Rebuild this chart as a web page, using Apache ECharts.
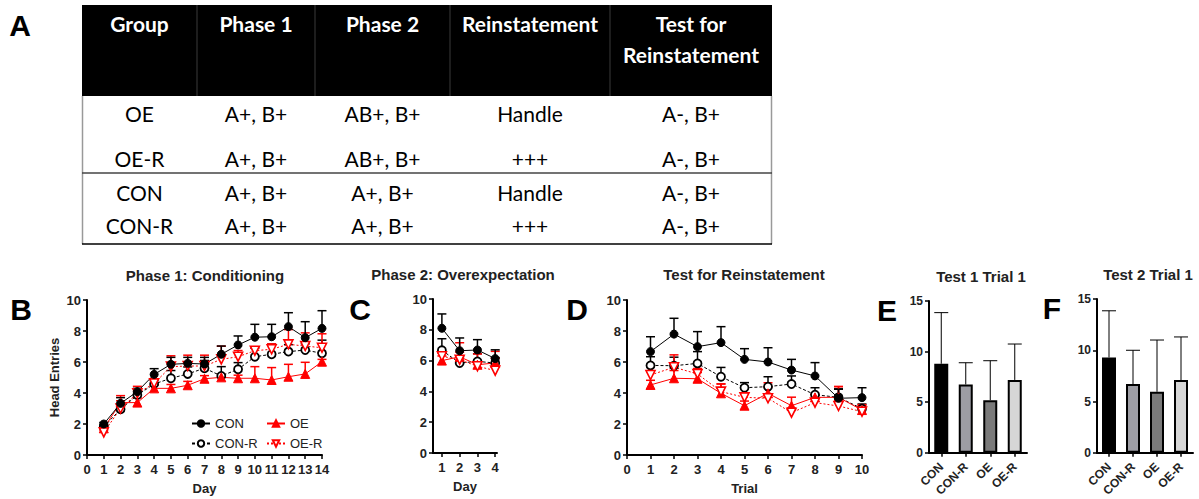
<!DOCTYPE html>
<html>
<head>
<meta charset="utf-8">
<script src="https://cdn.jsdelivr.net/npm/echarts@6/dist/echarts.min.js"></script>
<style>
html,body{margin:0;padding:0;background:#fff;}
#chart{width:1199px;height:499px;}
</style>
</head>
<body>
<div id="chart"></div>
<script>
// ---------------- DATA ----------------
const tableHeaders = ['Group', 'Phase 1', 'Phase 2', 'Reinstatement', 'Test for\nReinstatement'];
const tableRows = [
  ['OE', 'A+, B+', 'AB+, B+', 'Handle', 'A-, B+'],
  ['OE-R', 'A+, B+', 'AB+, B+', '+++', 'A-, B+'],
  ['CON', 'A+, B+', 'A+, B+', 'Handle', 'A-, B+'],
  ['CON-R', 'A+, B+', 'A+, B+', '+++', 'A-, B+']
];
const panelTitles = ['Phase 1: Conditioning', 'Phase 2: Overexpectation', 'Test for Reinstatement', 'Test 1 Trial 1', 'Test 2 Trial 1'];
const panelLetters = ['A', 'B', 'C', 'D', 'E', 'F'];
const groupNames = ['CON', 'CON-R', 'OE', 'OE-R'];

// Panel B: Phase 1 conditioning (days 1-14)
const daysB = [1, 2, 3, 4, 5, 6, 7, 8, 9, 10, 11, 12, 13, 14];
const bCON     = [2.0, 3.33, 4.09, 5.2, 5.85, 5.91, 5.87, 6.5, 7.1, 7.6, 7.63, 8.28, 7.57, 8.17];
const bCON_sem = [0.1, 0.37, 0.21, 0.37, 0.45, 0.39, 0.43, 0.53, 0.58, 0.83, 0.8, 0.9, 1.03, 1.14];
const bCONR     = [1.83, 2.95, 3.87, 4.58, 4.95, 5.23, 5.6, 5.1, 5.53, 6.34, 6.5, 6.67, 6.77, 6.56];
const bCONR_sem = [0.1, 0.2, 0.2, 0.25, 0.5, 0.45, 0.5, 0.6, 0.43, 0.55, 0.65, 0.45, 0.4, 0.85];
const bOE     = [1.72, 3.38, 3.38, 4.3, 4.3, 4.5, 4.92, 5.01, 4.95, 4.95, 4.84, 5.05, 5.23, 6.02];
const bOE_sem = [0.1, 0.45, 0.3, 0.2, 0.25, 0.25, 0.2, 0.2, 0.2, 0.75, 0.8, 0.8, 0.75, 0.15];
const bOER     = [1.46, 3.0, 3.98, 4.62, 5.7, 5.74, 5.74, 6.17, 6.34, 6.73, 6.82, 7.14, 7.03, 6.92];
const bOER_sem = [0.15, 0.5, 0.45, 0.3, 0.7, 0.7, 0.7, 0.85, 0.4, 0.25, 0.35, 0.95, 0.85, 0.9];

// Panel C: Phase 2 overexpectation (days 1-4)
const daysC = [1, 2, 3, 4];
const cCON     = [8.1, 6.64, 6.69, 6.13];
const cCON_sem = [0.93, 0.83, 0.67, 0.57];
const cCONR     = [6.67, 5.84, 5.95, 5.84];
const cCONR_sem = [0.75, 0.4, 0.5, 0.35];
const cOE     = [6.0, 6.25, 5.73, 5.85];
const cOE_sem = [0.3, 0.3, 0.25, 0.3];
const cOER     = [6.28, 6.06, 5.63, 5.35];
const cOER_sem = [0.2, 1.1, 0.8, 1.25];

// Panel D: Test for reinstatement (trials 1-10)
const trialsD = [1, 2, 3, 4, 5, 6, 7, 8, 9, 10];
const dCON     = [6.67, 7.8, 6.99, 7.25, 6.17, 6.0, 5.48, 5.1, 3.66, 3.7];
const dCON_sem = [0.96, 1.02, 0.97, 1.03, 0.69, 0.92, 0.69, 0.86, 0.58, 0.64];
const dCONR     = [5.78, 5.76, 5.91, 5.05, 4.34, 4.41, 4.58, 3.89, 3.72, 2.99];
const dCONR_sem = [0.56, 0.55, 0.76, 0.6, 0.33, 0.64, 0.52, 0.45, 0.55, 0.3];
const dOE     = [4.52, 4.95, 4.92, 3.98, 3.18, 3.98, 3.18, 3.72, 3.72, 2.9];
const dOE_sem = [0.3, 0.5, 0.4, 0.6, 0.3, 0.4, 0.55, 0.2, 0.7, 0.3];
const dOER     = [5.16, 5.66, 5.23, 4.09, 3.72, 3.66, 2.73, 3.38, 3.16, 2.8];
const dOER_sem = [0.22, 0.8, 0.35, 0.5, 0.22, 1.0, 0.3, 0.25, 1.25, 0.45];

// Panels E / F: bar charts
const eMeans = [8.8, 6.75, 5.2, 7.2];
const eSem   = [5.05, 2.15, 3.9, 3.55];
const fMeans = [9.3, 6.7, 5.95, 7.1];
const fSem   = [4.55, 3.3, 5.05, 4.2];

// ---------------- STYLES ----------------
const FONT = "'Liberation Sans', Arial, Helvetica, sans-serif";
const TFONT = "Lato, 'Noto Sans', sans-serif";
const RED = '#ff0000';
const invTri = 'path://M0,0 L10,0 L5,9 Z';
const groupStyle = {
  'CON':   {symbol: 'circle', size: 8, item: {color: '#000', borderColor: '#000', borderWidth: 1}, line: {color: '#000', width: 1, type: 'solid'}, err: '#000'},
  'CON-R': {symbol: 'circle', size: 8, item: {color: '#fff', borderColor: '#000', borderWidth: 1.8}, line: {color: '#000', width: 1, type: [3, 2]}, err: '#000'},
  'OE':    {symbol: 'triangle', size: 9, item: {color: RED, borderColor: RED, borderWidth: 1}, line: {color: RED, width: 1, type: 'solid'}, err: RED},
  'OE-R':  {symbol: invTri, size: 9, item: {color: '#fff', borderColor: RED, borderWidth: 1.6}, line: {color: RED, width: 1, type: [2, 2]}, err: RED}
};
const barColors = ['#000000', '#9d9da4', '#7a7a7a', '#d6d6d6'];

// ---------------- HELPERS ----------------
function errRender(color, capHalf, lw) {
  return function (params, api) {
    const x = api.value(0), y = api.value(1), e = api.value(2);
    const p0 = api.coord([x, y]);
    const p1 = api.coord([x, y + e]);
    return {
      type: 'group',
      children: [
        {type: 'line', shape: {x1: p0[0], y1: p0[1], x2: p1[0], y2: p1[1]}, style: {stroke: color, lineWidth: lw}},
        {type: 'line', shape: {x1: p1[0] - capHalf, y1: p1[1], x2: p1[0] + capHalf, y2: p1[1]}, style: {stroke: color, lineWidth: lw}}
      ]
    };
  };
}
function groupSeries(name, xs, ys, es, gi) {
  const s = groupStyle[name];
  return [
    {
      type: 'custom', name: name + ' err', xAxisIndex: gi, yAxisIndex: gi, z: 2,
      renderItem: errRender(s.err, 4.5, 1.5),
      encode: {x: 0, y: 1},
      data: xs.map((x, i) => [x, ys[i], es[i]]),
      silent: true
    },
    {
      type: 'line', name: name, xAxisIndex: gi, yAxisIndex: gi, z: 3,
      symbol: s.symbol, symbolSize: s.size, showSymbol: true,
      itemStyle: s.item, lineStyle: s.line,
      emphasis: {disabled: true},
      data: xs.map((x, i) => [x, ys[i]])
    }
  ];
}
function barSeries(means, sems, gi) {
  return [
    {
      type: 'bar', xAxisIndex: gi, yAxisIndex: gi, barWidth: 14, z: 2,
      data: means.map((v, i) => ({value: v, itemStyle: {color: barColors[i], borderColor: '#000', borderWidth: 2}})),
      emphasis: {disabled: true}
    },
    {
      type: 'custom', xAxisIndex: gi, yAxisIndex: gi, z: 1,
      renderItem: errRender('#000', 7, 1),
      encode: {x: 0, y: 1},
      data: means.map((v, i) => [i, v, sems[i]]),
      silent: true
    }
  ];
}
const axisLineS = {show: true, onZero: false, lineStyle: {color: '#000', width: 2}};
const axisTickS = {show: true, length: 4, lineStyle: {color: '#000', width: 1.5}};
const axisLabelS = {color: '#222', fontWeight: 'bold', fontSize: 13, fontFamily: FONT};
const barLabelS = {color: '#222', fontWeight: 'bold', fontSize: 12, fontFamily: FONT};
const nameS = {color: '#222', fontWeight: 'bold', fontSize: 13, fontFamily: FONT};

function valueX(gi, min, max, interval, name, extra) {
  return Object.assign({
    type: 'value', gridIndex: gi, min: min, max: max, interval: interval,
    axisLine: axisLineS, axisTick: axisTickS, splitLine: {show: false},
    axisLabel: Object.assign({margin: 8}, axisLabelS),
    name: name, nameLocation: 'middle', nameGap: 27, nameTextStyle: nameS
  }, extra || {});
}
function valueY(gi, max, interval, name, small) {
  return {
    type: 'value', gridIndex: gi, min: 0, max: max, interval: interval,
    axisLine: axisLineS, axisTick: axisTickS, splitLine: {show: false},
    axisLabel: Object.assign({margin: 6}, small ? barLabelS : axisLabelS),
    name: name || '', nameLocation: 'middle', nameGap: 26, nameTextStyle: nameS
  };
}
function catX(gi) {
  return {
    type: 'category', gridIndex: gi, data: groupNames,
    axisLine: axisLineS, axisTick: Object.assign({alignWithLabel: true}, axisTickS),
    axisLabel: Object.assign({rotate: 45, interval: 0, margin: 12}, barLabelS),
    splitLine: {show: false}
  };
}

// ---------------- GRAPHICS (table, titles, letters) ----------------
const graphics = [];
const tblLeft = 82, tblRight = 772, hdrTop = 5, hdrBottom = 96;
const colEdges = [82, 197, 315, 450, 610, 772];
const rowY = [113, 158, 192, 225];
graphics.push({type: 'rect', shape: {x: tblLeft, y: hdrTop, width: tblRight - tblLeft, height: hdrBottom - hdrTop}, style: {fill: '#000'}});
for (let c = 1; c < colEdges.length - 1; c++) {
  graphics.push({type: 'line', shape: {x1: colEdges[c], y1: hdrTop, x2: colEdges[c], y2: hdrBottom}, style: {stroke: '#3a3a3a', lineWidth: 1}});
}
tableHeaders.forEach((h, c) => {
  graphics.push({type: 'text', x: (colEdges[c] + colEdges[c + 1]) / 2, y: 8,
    style: {text: h, fill: '#fff', fontFamily: TFONT, fontWeight: 'bold', fontSize: 21, align: 'center', verticalAlign: 'top', lineHeight: 31}});
});
graphics.push({type: 'line', shape: {x1: tblLeft + 0.5, y1: hdrBottom, x2: tblLeft + 0.5, y2: 244}, style: {stroke: '#999', lineWidth: 1.5}});
graphics.push({type: 'line', shape: {x1: tblRight - 0.5, y1: hdrBottom, x2: tblRight - 0.5, y2: 244}, style: {stroke: '#999', lineWidth: 1.5}});
graphics.push({type: 'line', shape: {x1: tblLeft, y1: 173, x2: tblRight, y2: 173}, style: {stroke: '#444', lineWidth: 1.5}});
graphics.push({type: 'line', shape: {x1: tblLeft, y1: 244, x2: tblRight, y2: 244}, style: {stroke: '#000', lineWidth: 1.5}});
tableRows.forEach((row, r) => {
  row.forEach((cell, c) => {
    graphics.push({type: 'text', x: (colEdges[c] + colEdges[c + 1]) / 2, y: rowY[r],
      style: {text: cell, fill: '#000', fontFamily: TFONT, fontSize: 21, align: 'center', verticalAlign: 'middle'}});
  });
});
const titlePos = [[205, 275], [463, 274], [744, 274], [981, 276], [1148, 274]];
panelTitles.forEach((t, i) => {
  graphics.push({type: 'text', x: titlePos[i][0], y: titlePos[i][1],
    style: {text: t, fill: '#222', fontFamily: FONT, fontWeight: 'bold', fontSize: 15, align: 'center', verticalAlign: 'middle'}});
});
const letterPos = [[20, 25], [21, 309], [360, 309], [577, 309], [887, 310], [1052, 308]];
panelLetters.forEach((l, i) => {
  graphics.push({type: 'text', x: letterPos[i][0], y: letterPos[i][1],
    style: {text: l, fill: '#000', fontFamily: FONT, fontWeight: 'bold', fontSize: 30, align: 'center', verticalAlign: 'middle'}});
});

// ---------------- OPTION ----------------
const option = {
  animation: false,
  backgroundColor: '#fff',
  textStyle: {fontFamily: FONT},
  grid: [
    {left: 87, top: 300, width: 235, height: 155},
    {left: 433, top: 299, width: 64, height: 154},
    {left: 627, top: 300, width: 235, height: 155},
    {left: 929, top: 301, width: 98, height: 154},
    {left: 1097, top: 299, width: 96, height: 154}
  ],
  xAxis: [
    valueX(0, 0, 14, 1, 'Day'),
    valueX(1, 0.5, 4.1, 1, 'Day', {
      axisTick: Object.assign({customValues: daysC}, axisTickS),
      axisLabel: Object.assign({margin: 8, customValues: daysC}, axisLabelS)
    }),
    valueX(2, 0, 10, 1, 'Trial'),
    catX(3),
    catX(4)
  ],
  yAxis: [
    valueY(0, 10, 2, 'Head Entries'),
    valueY(1, 10, 2),
    valueY(2, 10, 2),
    valueY(3, 15, 5, '', true),
    valueY(4, 15, 5, '', true)
  ],
  legend: [
    {data: ['CON', 'CON-R'], orient: 'vertical', left: 186, top: 412, itemGap: 7, itemWidth: 18, itemHeight: 8,
      textStyle: {fontFamily: FONT, fontSize: 13, color: '#222'}, selectedMode: false},
    {data: ['OE', 'OE-R'], orient: 'vertical', left: 261, top: 412, itemGap: 7, itemWidth: 18, itemHeight: 8,
      textStyle: {fontFamily: FONT, fontSize: 13, color: '#222'}, selectedMode: false}
  ],
  graphic: graphics,
  series: [].concat(
    groupSeries('CON-R', daysB, bCONR, bCONR_sem, 0),
    groupSeries('OE', daysB, bOE, bOE_sem, 0),
    groupSeries('OE-R', daysB, bOER, bOER_sem, 0),
    groupSeries('CON', daysB, bCON, bCON_sem, 0),
    groupSeries('CON-R', daysC, cCONR, cCONR_sem, 1),
    groupSeries('OE', daysC, cOE, cOE_sem, 1),
    groupSeries('OE-R', daysC, cOER, cOER_sem, 1),
    groupSeries('CON', daysC, cCON, cCON_sem, 1),
    groupSeries('CON-R', trialsD, dCONR, dCONR_sem, 2),
    groupSeries('OE', trialsD, dOE, dOE_sem, 2),
    groupSeries('OE-R', trialsD, dOER, dOER_sem, 2),
    groupSeries('CON', trialsD, dCON, dCON_sem, 2),
    barSeries(eMeans, eSem, 3),
    barSeries(fMeans, fSem, 4)
  )
};
const chart = echarts.init(document.getElementById('chart'), null, {renderer: 'svg'});
chart.setOption(option);
</script>
</body>
</html>
